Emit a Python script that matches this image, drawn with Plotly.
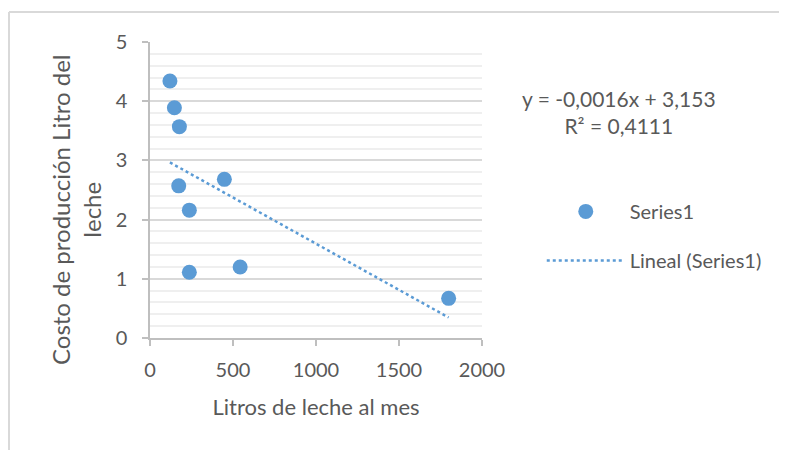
import plotly.graph_objects as go

# Data
litros = [120, 147, 177, 173, 237, 237, 448, 543, 1799]
costo = [4.34, 3.89, 3.57, 2.57, 2.16, 1.11, 2.68, 1.20, 0.67]

# Linear trendline coefficients (as displayed: y = -0,0016x + 3,153)
slope = -0.00156
intercept = 3.153
r2 = 0.4111

x_ticks = [0, 500, 1000, 1500, 2000]
y_ticks = [0, 1, 2, 3, 4, 5]

series_color = "#5B9BD5"
text_color = "#595959"
axis_color = "#BFBFBF"
font_family = "Lato"

tx = [min(litros), max(litros)]
ty = [slope * v + intercept for v in tx]

fig = go.Figure()
fig.add_trace(go.Scatter(
    x=litros, y=costo, mode="markers", name="Series1", legendgroup="a",
    marker=dict(color=series_color, size=15),
))
fig.add_trace(go.Scatter(
    x=tx, y=ty, mode="lines", name="Lineal (Series1)", legendgroup="b",
    line=dict(color=series_color, width=2.5, dash="dot"),
))

eq_text = "y = -0,0016x + 3,153<br>R² = " + f"{r2:.4f}".replace(".", ",")

fig.update_layout(
    width=787, height=450,
    margin=dict(l=142, r=313, t=34, b=120),
    paper_bgcolor="white", plot_bgcolor="white",
    font=dict(family=font_family, color=text_color, size=20),
    showlegend=True,
    legend=dict(x=1.18, y=0.345, xanchor="left", yanchor="middle",
                font=dict(size=20, color=text_color), tracegroupgap=20,
                itemwidth=78, bgcolor="rgba(0,0,0,0)"),
    xaxis=dict(
        range=[0, 2000], tickvals=x_ticks, showgrid=False, zeroline=False,
        showline=True, linecolor=axis_color, linewidth=1.5,
        ticks="outside", ticklen=6, tickcolor=axis_color, tickwidth=1.5,
        ticklabelstandoff=7,
        tickfont=dict(size=20, color=text_color),
        title=dict(text="Litros de leche al mes", font=dict(size=22, color=text_color), standoff=20),
    ),
    yaxis=dict(
        range=[0, 5], tickvals=y_ticks, showgrid=True, gridcolor="#D9D9D9", gridwidth=1.5,
        zeroline=False, showline=True, linecolor=axis_color, linewidth=1.5,
        ticks="outside", ticklen=6, tickcolor=axis_color, tickwidth=1.5,
        ticklabelstandoff=11,
        tickfont=dict(size=20, color=text_color),
        minor=dict(dtick=0.2, showgrid=True, gridcolor="#EFEFEF", gridwidth=1.5, ticks=""),
    ),
    annotations=[
        dict(text=eq_text, xref="paper", yref="paper", x=1.4127, y=0.765,
             xanchor="center", yanchor="middle",
             showarrow=False, align="center", font=dict(size=21, color=text_color)),
        dict(text="Costo de producción Litro del<br>leche", xref="paper", yref="paper",
             x=-0.2229, y=0.4358, xanchor="center", yanchor="middle",
             textangle=-90, showarrow=False, align="center",
             font=dict(size=24, color=text_color)),
    ],
    shapes=[
        dict(type="line", xref="paper", yref="paper", x0=-0.4247, x1=-0.4247, y0=1.1014, y1=-0.5,
             line=dict(color="#D9D9D9", width=2)),
        dict(type="line", xref="paper", yref="paper", x0=-0.4247, x1=2.0, y0=1.1014, y1=1.1014,
             line=dict(color="#D9D9D9", width=2)),
    ],
)

fig.write_html("out.html")
